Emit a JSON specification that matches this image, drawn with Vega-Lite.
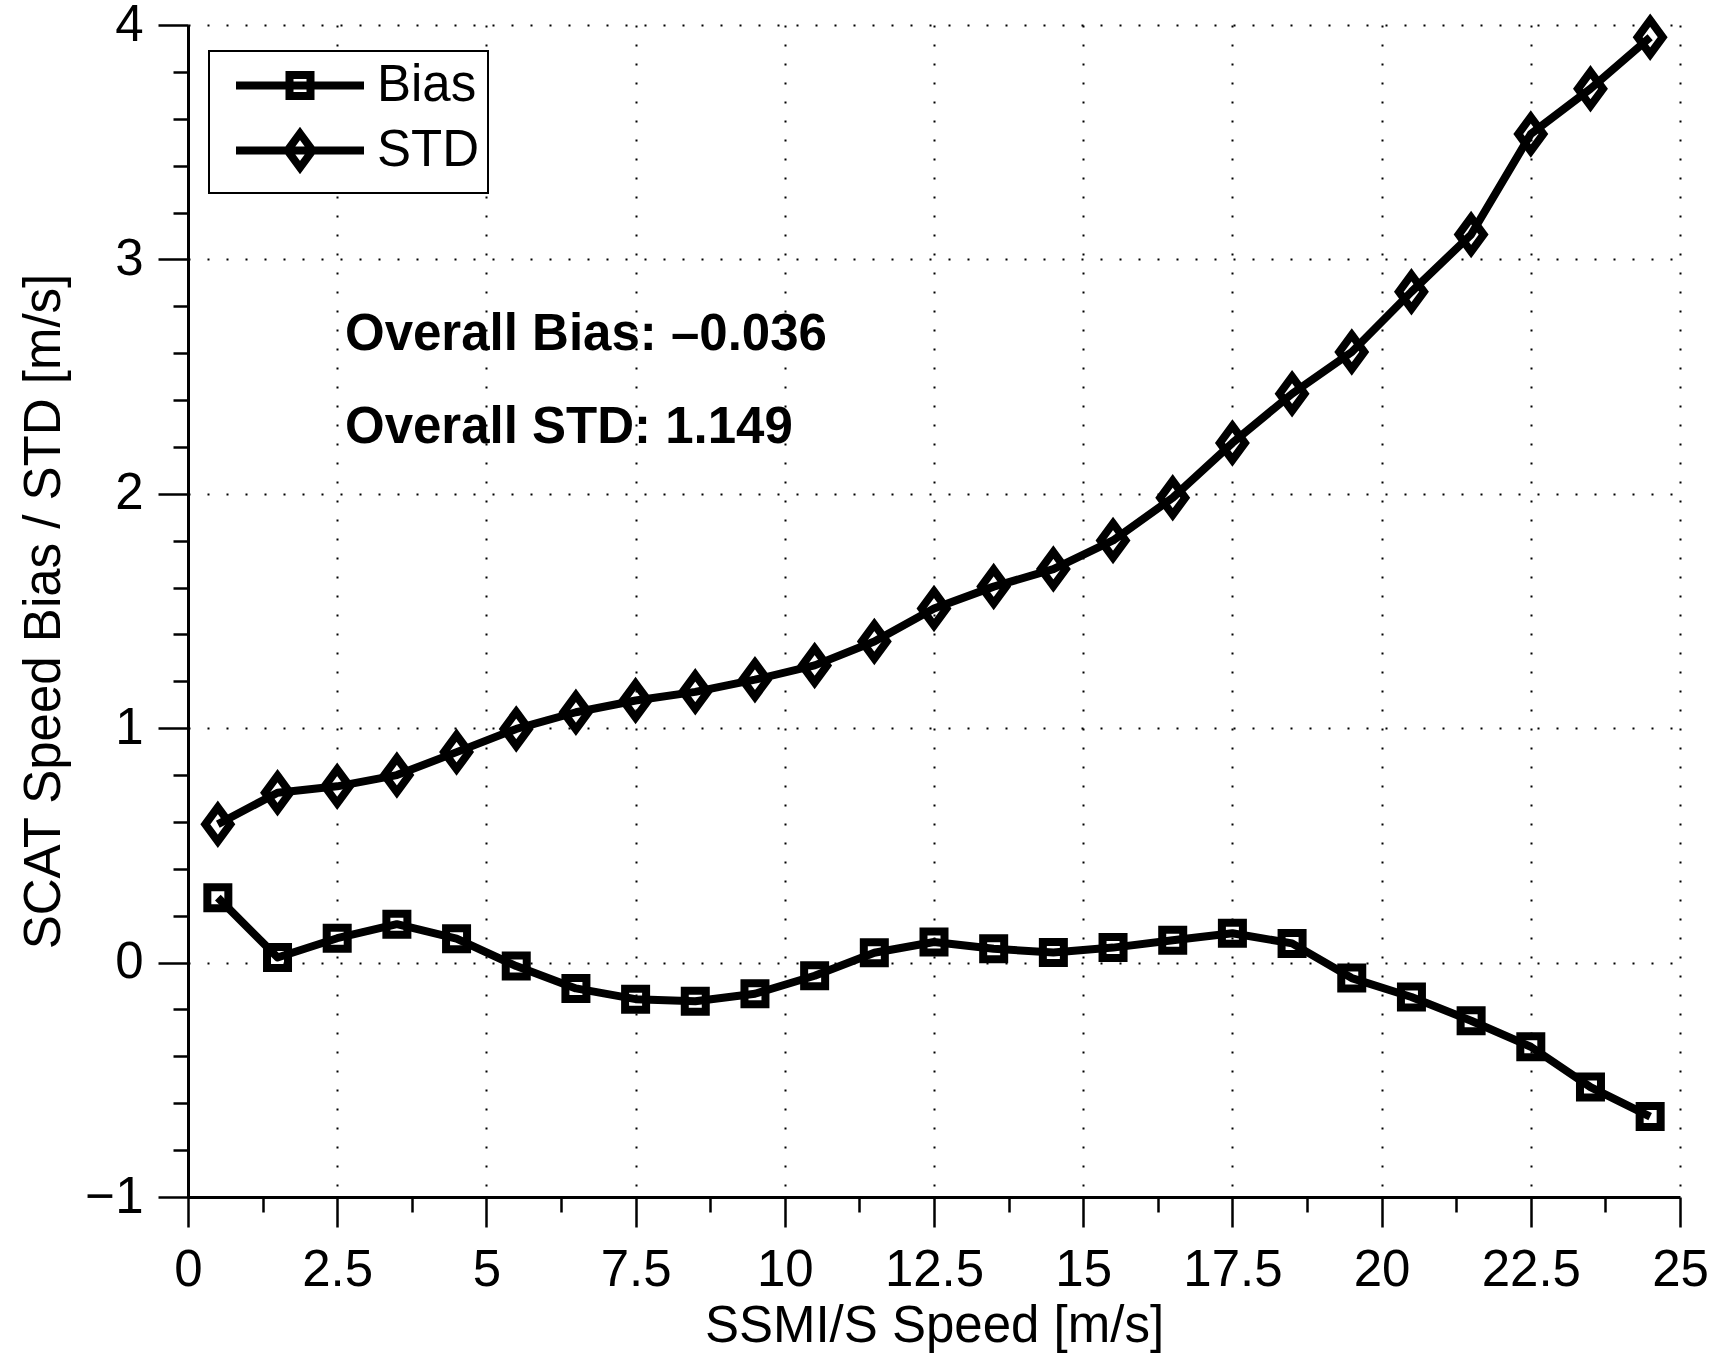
{
  "$schema": "https://vega.github.io/schema/vega-lite/v6.json",
  "width": 1492,
  "height": 1172,
  "autosize": {"type": "none"},
  "padding": {"left": 188, "top": 25, "right": 34, "bottom": 162},
  "background": "white",
  "config": {"font": "Liberation Sans", "view": {"stroke": null}},
  "datasets": {
    "series": [
      {"speed": 0.5, "value": 0.277, "series": "Bias"},
      {"speed": 1.5, "value": 0.022, "series": "Bias"},
      {"speed": 2.5, "value": 0.104, "series": "Bias"},
      {"speed": 3.5, "value": 0.164, "series": "Bias"},
      {"speed": 4.5, "value": 0.102, "series": "Bias"},
      {"speed": 5.5, "value": -0.015, "series": "Bias"},
      {"speed": 6.5, "value": -0.110, "series": "Bias"},
      {"speed": 7.5, "value": -0.156, "series": "Bias"},
      {"speed": 8.5, "value": -0.165, "series": "Bias"},
      {"speed": 9.5, "value": -0.133, "series": "Bias"},
      {"speed": 10.5, "value": -0.056, "series": "Bias"},
      {"speed": 11.5, "value": 0.042, "series": "Bias"},
      {"speed": 12.5, "value": 0.088, "series": "Bias"},
      {"speed": 13.5, "value": 0.059, "series": "Bias"},
      {"speed": 14.5, "value": 0.043, "series": "Bias"},
      {"speed": 15.5, "value": 0.064, "series": "Bias"},
      {"speed": 16.5, "value": 0.095, "series": "Bias"},
      {"speed": 17.5, "value": 0.125, "series": "Bias"},
      {"speed": 18.5, "value": 0.082, "series": "Bias"},
      {"speed": 19.5, "value": -0.066, "series": "Bias"},
      {"speed": 20.5, "value": -0.147, "series": "Bias"},
      {"speed": 21.5, "value": -0.248, "series": "Bias"},
      {"speed": 22.5, "value": -0.359, "series": "Bias"},
      {"speed": 23.5, "value": -0.531, "series": "Bias"},
      {"speed": 24.5, "value": -0.657, "series": "Bias"},
      {"speed": 0.5, "value": 0.590, "series": "STD"},
      {"speed": 1.5, "value": 0.725, "series": "STD"},
      {"speed": 2.5, "value": 0.752, "series": "STD"},
      {"speed": 3.5, "value": 0.800, "series": "STD"},
      {"speed": 4.5, "value": 0.898, "series": "STD"},
      {"speed": 5.5, "value": 0.997, "series": "STD"},
      {"speed": 6.5, "value": 1.068, "series": "STD"},
      {"speed": 7.5, "value": 1.118, "series": "STD"},
      {"speed": 8.5, "value": 1.155, "series": "STD"},
      {"speed": 9.5, "value": 1.207, "series": "STD"},
      {"speed": 10.5, "value": 1.268, "series": "STD"},
      {"speed": 11.5, "value": 1.370, "series": "STD"},
      {"speed": 12.5, "value": 1.511, "series": "STD"},
      {"speed": 13.5, "value": 1.604, "series": "STD"},
      {"speed": 14.5, "value": 1.679, "series": "STD"},
      {"speed": 15.5, "value": 1.801, "series": "STD"},
      {"speed": 16.5, "value": 1.983, "series": "STD"},
      {"speed": 17.5, "value": 2.217, "series": "STD"},
      {"speed": 18.5, "value": 2.427, "series": "STD"},
      {"speed": 19.5, "value": 2.605, "series": "STD"},
      {"speed": 20.5, "value": 2.862, "series": "STD"},
      {"speed": 21.5, "value": 3.106, "series": "STD"},
      {"speed": 22.5, "value": 3.535, "series": "STD"},
      {"speed": 23.5, "value": 3.728, "series": "STD"},
      {"speed": 24.5, "value": 3.948, "series": "STD"}
    ],
    "notes": [
      {"label": "Overall Bias: –0.036", "x": 2.63, "y": 2.613},
      {"label": "Overall STD: 1.149", "x": 2.63, "y": 2.216}
    ]
  },
  "layer": [
    {
      "data": {"name": "series"},
      "mark": {"type": "line", "strokeWidth": 8, "strokeJoin": "round"},
      "encoding": {
        "x": {
          "field": "speed", "type": "quantitative",
          "scale": {"domain": [0, 25], "nice": false, "zero": false},
          "axis": {
            "orient": "bottom", "values": [1.25, 3.75, 6.25, 8.75, 11.25, 13.75, 16.25, 18.75, 21.25, 23.75],
            "labels": false, "domain": false, "grid": false, "title": null,
            "tickSize": 15, "tickWidth": 2.5, "tickColor": "black"
          }
        },
        "y": {
          "field": "value", "type": "quantitative",
          "scale": {"domain": [-1, 4], "nice": false, "zero": false},
          "axis": {
            "orient": "left",
            "values": [-0.8, -0.6, -0.4, -0.2, 0.2, 0.4, 0.6, 0.8, 1.2, 1.4, 1.6, 1.8, 2.2, 2.4, 2.6, 2.8, 3.2, 3.4, 3.6, 3.8],
            "labels": false, "domain": false, "grid": false, "title": null,
            "tickSize": 15, "tickWidth": 2.5, "tickColor": "black"
          }
        },
        "color": {
          "field": "series", "type": "nominal",
          "scale": {"domain": ["Bias", "STD"], "range": ["black", "black"]},
          "legend": {
            "title": null,
            "orient": "none", "legendX": 21, "legendY": 26,
            "direction": "vertical",
            "padding": 9,
            "fillColor": "white", "strokeColor": "black",
            "symbolSize": 256, "symbolStrokeWidth": 8, "symbolFillColor": "transparent", "symbolOpacity": 1,
            "symbolOffset": 56.5, "labelOffset": 51.5,
            "labelFontSize": 51, "labelColor": "black", "labelLimit": 400,
            "rowPadding": 5,
            "encoding": {
              "symbols": {
                "shape": {
                  "condition": {"test": "datum.value === 'Bias'", "value": "M-9.75,0M-8,0H8M-1.3125,-1.3125H1.3125V1.3125H-1.3125Z"},
                  "value": "M-9.75,0M-8,0H8M0,-2.125L1.5625,0L0,2.125L-1.5625,0Z"
                },
                "fill": {"value": "transparent"},
                "strokeWidth": {"value": 8}
              },
              "legend": {"strokeWidth": {"value": 2}}
            }
          }
        }
      }
    },
    {
      "data": {"name": "series"},
      "mark": {"type": "point", "filled": false, "color": "black", "strokeWidth": 8, "size": 625, "opacity": 1},
      "encoding": {
        "x": {
          "field": "speed", "type": "quantitative",
          "axis": {
            "orient": "bottom", "values": [0, 2.5, 5, 7.5, 10, 12.5, 15, 17.5, 20, 22.5, 25],
            "format": ".1~f", "labelFlush": false, "labelOverlap": false,
            "labelFontSize": 51, "labelColor": "black", "labelPadding": 18,
            "tickSize": 30, "tickWidth": 2.5, "tickColor": "black",
            "domain": true, "domainWidth": 3, "domainColor": "black",
            "grid": true, "gridColor": "black", "gridWidth": 2, "gridDash": [2, 17], "gridOpacity": 1,
            "title": "SSMI/S Speed [m/s]", "titleFontSize": 51, "titleFontWeight": "normal", "titleColor": "black", "titlePadding": 6
          }
        },
        "y": {
          "field": "value", "type": "quantitative",
          "axis": {
            "orient": "left", "values": [-1, 0, 1, 2, 3, 4],
            "format": ".1~f", "labelFlush": false, "labelOverlap": false,
            "labelFontSize": 51, "labelColor": "black", "labelPadding": 15,
            "tickSize": 30, "tickWidth": 2.5, "tickColor": "black",
            "domain": true, "domainWidth": 3, "domainColor": "black",
            "grid": true, "gridColor": "black", "gridWidth": 2, "gridDash": [2, 17], "gridOpacity": 1,
            "title": "SCAT Speed Bias / STD [m/s]", "titleFontSize": 51, "titleFontWeight": "normal", "titleColor": "black", "titlePadding": 14
          }
        },
        "shape": {
          "field": "series", "type": "nominal",
          "scale": {"range": ["M-0.84,-0.84H0.84V0.84H-0.84Z", "M0,-1.36L1,0L0,1.36L-1,0Z"]},
          "legend": null
        }
      }
    },
    {
      "data": {"name": "notes"},
      "mark": {"type": "text", "align": "left", "baseline": "alphabetic", "fontSize": 51, "fontWeight": "bold", "color": "black"},
      "encoding": {
        "x": {"field": "x", "type": "quantitative", "axis": null},
        "y": {"field": "y", "type": "quantitative", "axis": null},
        "text": {"field": "label"}
      }
    }
  ],
  "resolve": {"axis": {"x": "independent", "y": "independent"}}
}
